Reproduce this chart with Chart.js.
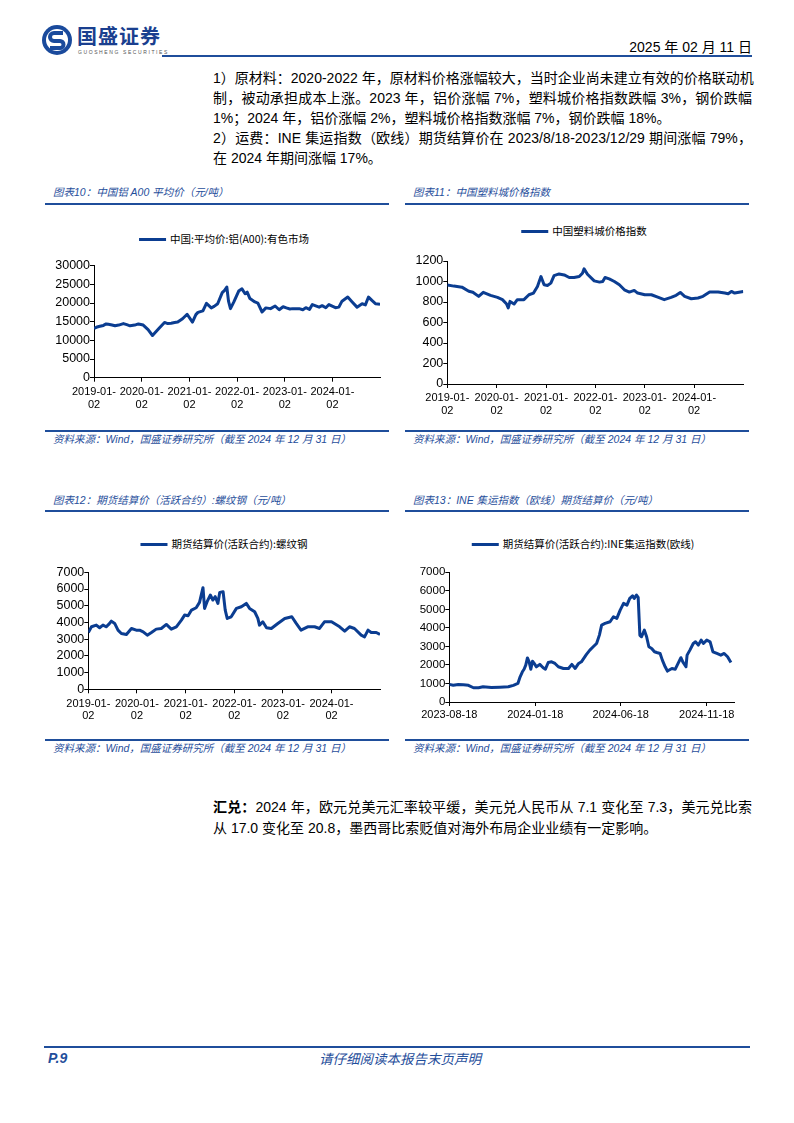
<!DOCTYPE html>
<html>
<head>
<meta charset="utf-8">
<script src="https://cdn.jsdelivr.net/npm/chart.js@4.4.1/dist/chart.umd.min.js"></script>
<style>
  body { margin: 0; width: 794px; height: 1123px; position: relative; background: #fff;
         font-family: "Liberation Sans", "Noto Sans CJK SC", sans-serif; color: #000; }
  .abs { position: absolute; }
  .rule { position: absolute; height: 2px; background: #1f4e9b; }
  .ttl { position: absolute; font-size: 10.5px; line-height: 14px; font-style: italic; color: #1f4e9b; white-space: nowrap; }
  .src { position: absolute; font-size: 10.5px; line-height: 13px; font-style: italic; color: #1f4e9b; white-space: nowrap; }
  .txt { position: absolute; left: 213px; width: 539px; font-size: 14px; line-height: 20px; white-space: nowrap; }
  .j { text-align: justify; text-align-last: justify; }
  .lg { position: absolute; transform: translateX(-50%); display: flex; align-items: center;
        font-family: "Noto Sans CJK SC", sans-serif; font-size: 10.5px; line-height: 12px; white-space: nowrap; }
  .lg i { display: inline-block; width: 27px; height: 3px; background: #0b3d91; margin-right: 4px; }
  canvas { position: absolute; }
</style>
</head>
<body>

<!-- шапка -->
<svg class="abs" style="left:41px;top:24px" width="32" height="32" viewBox="0 0 32 32">
  <circle cx="16" cy="16" r="15" fill="#1a4a9c"/>
  <circle cx="16" cy="16" r="11" fill="#fff"/>
  <path d="M22 9 H13 a4 4 0 0 0 0 8 h6 a3.5 3.5 0 0 1 0 7 H9" stroke="#1a4a9c" stroke-width="4" fill="none"/>
</svg>
<div class="abs" style="left:77px;top:24px;font-family:'Noto Sans CJK SC';font-weight:bold;font-size:20px;line-height:24px;letter-spacing:1px;color:#1a3f8f">国盛证券</div>
<div class="abs" style="left:78px;top:49px;font-size:5px;line-height:6px;letter-spacing:1.6px;color:#555">GUOSHENG SECURITIES</div>
<div class="rule" style="left:162px;top:55px;width:590px"></div>
<div class="abs" style="right:42px;top:38px;font-size:14px;line-height:18px">2025 年 02 月 11 日</div>

<!-- текст -->
<div class="txt j" style="top:68px">1）原材料：2020-2022 年，原材料价格涨幅较大，当时企业尚未建立有效的价格联动机</div>
<div class="txt j" style="top:88px">制，被动承担成本上涨。2023 年，铝价涨幅 7%，塑料城价格指数跌幅 3%，钢价跌幅</div>
<div class="txt" style="top:108px">1%；2024 年，铝价涨幅 2%，塑料城价格指数涨幅 7%，钢价跌幅 18%。</div>
<div class="txt j" style="top:128px">2）运费：INE 集运指数（欧线）期货结算价在 2023/8/18-2023/12/29 期间涨幅 79%，</div>
<div class="txt" style="top:148px">在 2024 年期间涨幅 17%。</div>

<!-- заголовки графиков -->
<div class="ttl" style="left:53px;top:185px">图表10：中国铝 A00 平均价（元/吨）</div>
<div class="rule" style="left:45px;top:203px;width:344px"></div>
<div class="ttl" style="left:413px;top:185px">图表11：中国塑料城价格指数</div>
<div class="rule" style="left:405px;top:203px;width:344px"></div>

<div class="ttl" style="left:53px;top:493px">图表12：期货结算价（活跃合约）:螺纹钢（元/吨）</div>
<div class="rule" style="left:45px;top:510px;width:344px"></div>
<div class="ttl" style="left:413px;top:493px">图表13：INE 集运指数（欧线）期货结算价（元/吨）</div>
<div class="rule" style="left:405px;top:510px;width:344px"></div>

<!-- легенды -->
<div class="lg" id="lg1" style="left:224px;top:233px"></div>
<div class="lg" id="lg2" style="left:584px;top:225px"></div>
<div class="lg" id="lg3" style="left:224px;top:538px"></div>
<div class="lg" id="lg4" style="left:583px;top:538px"></div>

<canvas id="c1" width="350" height="165" style="left:40px;top:255px"></canvas>
<canvas id="c2" width="355" height="170" style="left:400px;top:250px"></canvas>
<canvas id="c3" width="350" height="170" style="left:40px;top:560px"></canvas>
<canvas id="c4" width="350" height="170" style="left:400px;top:560px"></canvas>

<!-- источники -->
<div class="rule" style="left:45px;top:430px;width:344px"></div>
<div class="src" style="left:53px;top:433px">资料来源：Wind，国盛证券研究所（截至 2024 年 12 月 31 日）</div>
<div class="rule" style="left:405px;top:430px;width:344px"></div>
<div class="src" style="left:413px;top:433px">资料来源：Wind，国盛证券研究所（截至 2024 年 12 月 31 日）</div>

<div class="rule" style="left:45px;top:739px;width:344px"></div>
<div class="src" style="left:53px;top:742px">资料来源：Wind，国盛证券研究所（截至 2024 年 12 月 31 日）</div>
<div class="rule" style="left:405px;top:739px;width:344px"></div>
<div class="src" style="left:413px;top:742px">资料来源：Wind，国盛证券研究所（截至 2024 年 12 月 31 日）</div>

<!--汇兑 -->
<div class="txt j" style="top:797px"><b>汇兑：</b>2024 年，欧元兑美元汇率较平缓，美元兑人民币从 7.1 变化至 7.3，美元兑比索</div>
<div class="txt" style="top:818px">从 17.0 变化至 20.8，墨西哥比索贬值对海外布局企业业绩有一定影响。</div>

<!-- подвал -->
<div class="rule" style="left:44px;top:1046px;width:706px"></div>
<div class="abs" style="left:48px;top:1050px;font-size:14px;line-height:16px;font-weight:bold;font-style:italic;color:#1f4e9b">P.9</div>
<div class="abs" style="left:0;width:800px;top:1050px;text-align:center;font-family:'Noto Sans CJK SC';font-size:13.5px;line-height:16px;font-style:italic;color:#1f4e9b">请仔细阅读本报告末页声明</div>

<script>
// ---- данные ----
const yearTicks = ['2019-01-02', '2020-01-02', '2021-01-02', '2022-01-02', '2023-01-02', '2024-01-02'];
const yearLabels = [['2019-01-', '02'], ['2020-01-', '02'], ['2021-01-', '02'], ['2022-01-', '02'], ['2023-01-', '02'], ['2024-01-', '02']];

// Алюминий A00
const alName = '中国:平均价:铝(A00):有色市场';
const alDates = ['2019-01-02','2019-01-20','2019-02-08','2019-03-15','2019-04-05','2019-04-22','2019-05-20','2019-06-12','2019-07-10','2019-08-15','2019-09-10','2019-10-05','2019-11-10','2019-12-08',
  '2020-01-14','2020-02-20','2020-03-25','2020-04-20','2020-05-18','2020-06-25','2020-07-20','2020-08-15','2020-09-10','2020-10-04','2020-11-10','2020-12-15',
  '2021-01-25','2021-02-20','2021-03-08','2021-04-15','2021-05-12','2021-06-18','2021-07-10','2021-08-06','2021-09-10','2021-09-28','2021-10-15','2021-10-28','2021-11-12','2021-12-08',
  '2022-01-14','2022-02-08','2022-03-04','2022-03-20','2022-04-10','2022-05-18','2022-06-10','2022-07-12','2022-08-10','2022-09-15','2022-10-20','2022-11-20','2022-12-20',
  '2023-01-14','2023-02-10','2023-03-03','2023-04-22','2023-05-20','2023-06-12','2023-07-10','2023-08-01','2023-09-22','2023-10-15','2023-11-12','2023-12-06',
  '2024-01-25','2024-02-20','2024-03-15','2024-04-28','2024-06-01','2024-07-08','2024-08-16','2024-09-10','2024-10-04','2024-10-30','2024-11-28','2024-12-31'];
const alValues = [13200,13500,13700,14000,14400,14300,14100,13900,14100,14500,14200,13900,14100,14400,
  14100,12900,11300,12300,13400,14800,14500,14600,14800,14900,15800,17000,
  14900,16900,17500,17900,19900,18700,19100,19800,22800,23400,24300,20500,18500,20300,
  23200,23800,22500,22900,21200,20300,20000,17600,18700,18500,19200,18200,19000,
  18700,18400,18500,18500,18200,18750,18300,19600,18900,19300,18750,19600,
  18750,18900,20500,21600,20300,18900,19800,19500,21600,20700,19800,19700];

//塑料城价格指数
const plName = '中国塑料城价格指数';
const plDates = ['2019-01-02','2019-02-20','2019-04-20','2019-06-10','2019-07-10','2019-08-22','2019-09-25','2019-11-18',
  '2020-01-08','2020-02-14','2020-03-16','2020-03-28','2020-04-10','2020-05-10','2020-06-03','2020-07-22','2020-08-28','2020-10-01','2020-10-30','2020-11-25','2020-12-18',
  '2021-01-12','2021-02-06','2021-03-02','2021-04-08','2021-05-16','2021-06-22','2021-07-28','2021-09-04','2021-09-28','2021-10-10','2021-11-04','2021-12-24',
  '2022-02-01','2022-02-25','2022-03-14','2022-04-14','2022-05-22','2022-06-28','2022-08-04','2022-09-10','2022-10-16','2022-11-10',
  '2023-01-02','2023-02-20','2023-04-08','2023-05-26','2023-07-16','2023-08-22','2023-09-22','2023-10-24','2023-12-12',
  '2024-01-31','2024-03-08','2024-04-26','2024-06-28','2024-08-16','2024-09-10','2024-10-04','2024-10-28','2024-12-31'];
const plValues = [965,955,945,905,895,855,895,865,
  845,823,780,742,806,780,823,823,871,887,952,1048,968,
  961,984,1058,1074,1064,1039,1039,1048,1081,1123,1071,1006,
  994,1000,1039,1026,1000,968,919,897,913,887,
  871,871,848,823,845,865,893,855,832,
  839,855,897,897,887,880,903,887,903];

//螺纹钢
const rbName = '期货结算价(活跃合约):螺纹钢';
const rbDates = ['2019-01-02','2019-01-26','2019-03-03','2019-03-28','2019-04-22','2019-05-16','2019-06-04','2019-06-24','2019-07-19','2019-08-13','2019-09-07','2019-10-15','2019-11-22','2019-12-28',
  '2020-01-22','2020-02-18','2020-03-20','2020-04-20','2020-05-26','2020-07-03','2020-08-10','2020-09-16','2020-10-24','2020-12-01','2020-12-25',
  '2021-01-20','2021-02-15','2021-03-22','2021-04-16','2021-05-12','2021-05-24','2021-06-12','2021-07-06','2021-07-25','2021-08-12','2021-09-01','2021-09-15','2021-10-10','2021-10-26','2021-11-10','2021-12-10',
  '2022-01-18','2022-02-24','2022-04-02','2022-04-27','2022-06-04','2022-06-28','2022-07-10','2022-08-04','2022-09-01','2022-10-07','2022-11-25',
  '2023-01-16','2023-03-10','2023-04-12','2023-05-18','2023-07-07','2023-08-28','2023-10-04','2023-11-10',
  '2024-01-02','2024-03-03','2024-04-10','2024-05-16','2024-06-22','2024-08-12','2024-09-06','2024-10-02','2024-10-26','2024-12-03','2024-12-31'];
const rbValues = [3400,3740,3840,3680,3840,3740,3880,4080,3940,3540,3340,3280,3640,3540,
  3540,3440,3240,3400,3600,3640,3880,3600,3740,4140,4440,
  4400,4740,4880,5200,6080,4840,5240,5640,5340,5540,5140,5800,5840,4740,4240,4340,
  4840,4940,5140,4840,4640,4240,3840,4040,3680,3640,3940,
  4240,4340,3940,3540,3740,3740,3640,4040,
  4040,3740,3480,3740,3640,3240,3140,3540,3400,3400,3280];

// INE 集运指数(欧线)
const scName = '期货结算价(活跃合约):INE集运指数(欧线)';
const scTicks = ['2023-08-18', '2024-01-18', '2024-06-18', '2024-11-18'];
const scDates = ['2023-08-18','2023-08-25','2023-09-03','2023-09-12','2023-09-21','2023-09-30','2023-10-09','2023-10-17','2023-11-01','2023-11-16','2023-12-01','2023-12-10','2023-12-18','2023-12-22','2023-12-26','2023-12-29',
  '2024-01-01','2024-01-04','2024-01-07','2024-01-10','2024-01-13','2024-01-16','2024-01-20','2024-01-26','2024-02-01','2024-02-05','2024-02-10','2024-02-16','2024-02-22','2024-02-28',
  '2024-03-08','2024-03-17','2024-03-23','2024-03-29','2024-04-04','2024-04-09','2024-04-18','2024-04-24','2024-04-30','2024-05-06','2024-05-11','2024-05-15','2024-05-21','2024-05-30',
  '2024-06-05','2024-06-11','2024-06-17','2024-06-23','2024-06-29','2024-07-04','2024-07-09','2024-07-12','2024-07-16','2024-07-19','2024-07-22','2024-07-25','2024-07-30',
  '2024-08-03','2024-08-07','2024-08-12','2024-08-17','2024-08-21','2024-08-27','2024-08-31','2024-09-05','2024-09-09','2024-09-17','2024-09-23','2024-09-28',
  '2024-10-03','2024-10-07','2024-10-12','2024-10-14','2024-10-19','2024-10-25','2024-10-29','2024-11-03','2024-11-08','2024-11-12','2024-11-18','2024-11-24','2024-11-29',
  '2024-12-06','2024-12-13','2024-12-19','2024-12-25','2024-12-31'];
const scValues = [950,900,940,930,900,770,770,820,785,800,820,900,1000,1360,1630,1770,
  1990,2380,2170,1770,2200,2080,1900,2030,1850,1770,2130,2170,2080,1900,
  1810,1810,2030,1810,2080,2170,2570,2800,2980,3160,3610,4150,4240,4330,
  4600,4510,4960,5320,5230,5590,5730,5590,5770,5650,3600,3520,3880,
  3520,2980,2890,2710,2670,2620,2260,1900,1670,1810,1770,2080,
  2390,2130,1900,2530,2800,3160,3250,3070,3340,3160,3340,3250,2710,
  2620,2530,2620,2440,2130];

const BLUE = '#0b3d91';
const FONT = '"Liberation Sans", Arial, sans-serif';

function toDay(s) {
    return Date.UTC(+s.slice(0, 4), +s.slice(5, 7) - 1, +s.slice(8, 10)) / 86400000;
}

// HTML-легенда: линия + подпись
function fillLegend(id, name) {
    document.getElementById(id).innerHTML = '<i></i><span>' + name + '</span>';
}

function makeChart(id, o) {
    const ctx = document.getElementById(id).getContext('2d');
    return new Chart(ctx, {
        type: 'line',
        data: {
            datasets: [{
                label: o.name,
                data: o.dates.map((d, i) => ({ x: toDay(d), y: o.values[i] })),
                borderColor: BLUE,
                backgroundColor: BLUE,
                borderWidth: 3,
                pointRadius: 0,
                tension: 0,
                borderJoinStyle: 'round'
            }]
        },
        options: {
            responsive: false,
            animation: false,
            devicePixelRatio: 1,
            layout: { padding: { top: o.pt, left: 0, right: o.pr, bottom: 0 } },
            plugins: { legend: { display: false }, tooltip: { enabled: false } },
            scales: {
                x: {
                    type: 'linear',
                    min: toDay(o.xMin),
                    max: toDay(o.xMax),
                    afterBuildTicks: s => { s.ticks = o.ticks.map(d => ({ value: toDay(d) })); },
                    afterFit: s => { s.height = o.xH; },
                    ticks: {
                        autoSkip: false,
                        maxRotation: 0,
                        padding: o.xPad,
                        color: '#000',
                        font: { family: FONT, size: o.xFont, lineHeight: 1.15 },
                        callback: (v, i) => o.tickLabels[i]
                    },
                    grid: { drawOnChartArea: false, tickLength: 4, color: '#000' },
                    border: { color: '#000', width: 1 }
                },
                y: {
                    min: 0,
                    max: o.yMax,
                    afterFit: s => { s.width = o.yW; },
                    ticks: {
                        stepSize: o.yStep,
                        autoSkip: false,
                        padding: 0,
                        color: '#000',
                        font: { family: FONT, size: o.yFont },
                        callback: v => String(v)
                    },
                    grid: { drawOnChartArea: false, tickLength: 4, color: '#000' },
                    border: { color: '#000', width: 1 }
                }
            }
        }
    });
}

fillLegend('lg1', alName);
fillLegend('lg2', plName);
fillLegend('lg3', rbName);
fillLegend('lg4', scName);

makeChart('c1', { name: alName, dates: alDates, values: alValues, yMax: 30000, yStep: 5000,
    xMin: '2019-01-02', xMax: '2024-12-31', ticks: yearTicks, tickLabels: yearLabels,
    yW: 54, pr: 10, pt: 10.7, xH: 42.3, xPad: 4, xFont: 11, yFont: 12.5 });

makeChart('c2', { name: plName, dates: plDates, values: plValues, yMax: 1200, yStep: 200,
    xMin: '2019-01-02', xMax: '2024-12-31', ticks: yearTicks, tickLabels: yearLabels,
    yW: 47.3, pr: 11.7, pt: 11, xH: 36, xPad: 4, xFont: 11, yFont: 12.5 });

makeChart('c3', { name: rbName, dates: rbDates, values: rbValues, yMax: 7000, yStep: 1000,
    xMin: '2019-01-02', xMax: '2024-12-31', ticks: yearTicks, tickLabels: yearLabels,
    yW: 48.3, pr: 10, pt: 12.3, xH: 40.7, xPad: 4, xFont: 11, yFont: 12.5 });

makeChart('c4', { name: scName, dates: scDates, values: scValues, yMax: 7000, yStep: 1000,
    xMin: '2023-08-18', xMax: '2025-01-06', ticks: scTicks, tickLabels: scTicks,
    yW: 49.3, pr: 15.7, pt: 12.3, xH: 28, xPad: 3, xFont: 11, yFont: 11.5 });
</script>
</body>
</html>
